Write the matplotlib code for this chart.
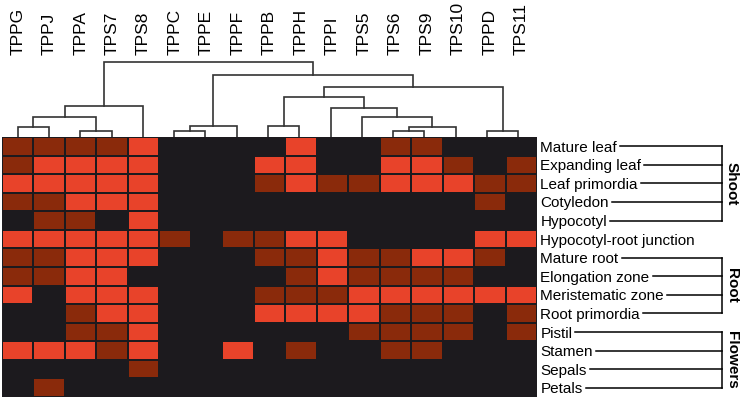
import numpy as np
import matplotlib
matplotlib.use('Agg')
import matplotlib.pyplot as plt
from matplotlib.colors import ListedColormap, BoundaryNorm
from matplotlib.lines import Line2D

plt.rcParams['font.family'] = ['Liberation Sans', 'DejaVu Sans']

genes = ['TPPG', 'TPPJ', 'TPPA', 'TPS7', 'TPS8', 'TPPC', 'TPPE', 'TPPF', 'TPPB',
         'TPPH', 'TPPI', 'TPS5', 'TPS6', 'TPS9', 'TPS10', 'TPPD', 'TPS11']

tissues = ['Mature leaf', 'Expanding leaf', 'Leaf primordia', 'Cotyledon', 'Hypocotyl',
           'Hypocotyl-root junction', 'Mature root', 'Elongation zone',
           'Meristematic zone', 'Root primordia', 'Pistil', 'Stamen', 'Sepals', 'Petals']

# 0 = not detected, 1 = weak, 2 = strong
expression = np.array([
    [1, 1, 1, 1, 2, 0, 0, 0, 0, 2, 0, 0, 1, 1, 0, 0, 0],
    [1, 2, 2, 2, 2, 0, 0, 0, 2, 2, 0, 0, 2, 2, 1, 0, 1],
    [2, 2, 2, 2, 2, 0, 0, 0, 1, 2, 1, 1, 2, 2, 2, 1, 1],
    [1, 1, 2, 2, 2, 0, 0, 0, 0, 0, 0, 0, 0, 0, 0, 1, 0],
    [0, 1, 1, 0, 2, 0, 0, 0, 0, 0, 0, 0, 0, 0, 0, 0, 0],
    [2, 2, 2, 2, 2, 1, 0, 1, 1, 2, 2, 0, 0, 0, 0, 2, 2],
    [1, 1, 2, 2, 2, 0, 0, 0, 1, 1, 2, 1, 1, 2, 2, 1, 0],
    [1, 1, 2, 2, 0, 0, 0, 0, 0, 1, 2, 1, 1, 1, 1, 0, 0],
    [2, 0, 2, 2, 2, 0, 0, 0, 1, 1, 1, 2, 2, 2, 2, 2, 2],
    [0, 0, 1, 2, 2, 0, 0, 0, 2, 2, 2, 2, 1, 1, 1, 0, 1],
    [0, 0, 1, 1, 2, 0, 0, 0, 0, 0, 0, 1, 1, 1, 1, 0, 1],
    [2, 2, 2, 1, 2, 0, 0, 2, 0, 1, 0, 0, 1, 1, 0, 0, 0],
    [0, 0, 0, 0, 1, 0, 0, 0, 0, 0, 0, 0, 0, 0, 0, 0, 0],
    [0, 1, 0, 0, 0, 0, 0, 0, 0, 0, 0, 0, 0, 0, 0, 0, 0],
])

# linkage: (left cluster, right cluster, height); new clusters numbered from 17
merges = [
    (0, 1, 10), (2, 3, 6), (17, 18, 20), (19, 4, 31),
    (5, 6, 6), (21, 7, 11),
    (12, 13, 6), (23, 14, 10), (11, 24, 20), (10, 25, 29),
    (8, 9, 11), (27, 26, 40), (15, 16, 6), (28, 29, 50),
    (22, 30, 62), (20, 31, 75),
]

groups = [('Shoot', 0, 4), ('Root', 6, 9), ('Flowers', 10, 13)]

W, H = 740, 400
fig = plt.figure(figsize=(7.4, 4), dpi=100)

# heatmap
ax = fig.add_axes([2 / W, 1 - 397 / H, 535 / W, 260 / H])
cmap = ListedColormap(['#1c1a1e', '#8a2a0b', '#e8432a'])
norm = BoundaryNorm([-0.5, 0.5, 1.5, 2.5], cmap.N)
ax.pcolormesh(expression, cmap=cmap, norm=norm, edgecolors='#1c1a1e', linewidth=1.3)
ax.set_xlim(0, len(genes))
ax.set_ylim(len(tissues), 0)
ax.set_facecolor('#1c1a1e')
for s in ax.spines.values():
    s.set_visible(False)

ax.xaxis.tick_top()
ax.set_xticks(np.arange(len(genes)) + 0.5)
ax.set_xticklabels(genes, rotation=90, fontsize=12.5, va='bottom', ha='center')
ax.tick_params(axis='x', length=0, pad=59)
ax.yaxis.tick_right()
ax.set_yticks(np.arange(len(tissues)) + 0.5)
ax.set_yticklabels(tissues, fontsize=11)
ax.tick_params(axis='y', length=0, pad=2.5)

# dendrogram
dax = fig.add_axes([2 / W, 1 - 137 / H, 532 / W, 82 / H])
dax.set_xlim(0, len(genes))
dax.set_ylim(0, 82)
dax.axis('off')
xpos = {i: i + 0.5 for i in range(len(genes))}
hpos = {i: 0 for i in range(len(genes))}
for k, (a, b, h) in enumerate(merges):
    node = len(genes) + k
    dax.plot([xpos[a], xpos[a], xpos[b], xpos[b]], [hpos[a], h, h, hpos[b]],
             color='#333333', lw=1.2, solid_joinstyle='miter')
    xpos[node] = (xpos[a] + xpos[b]) / 2
    hpos[node] = h

# brackets to tissue groups
fig.canvas.draw()
renderer = fig.canvas.get_renderer()
labels = ax.get_yticklabels()
bx = 722
for name, r0, r1 in groups:
    ys = []
    for r in range(r0, r1 + 1):
        bb = labels[r].get_window_extent(renderer)
        y = ax.transData.transform((0, r + 0.5))[1]
        ys.append(y)
        fig.add_artist(Line2D([(bb.x1 + 3) / W, bx / W], [y / H, y / H],
                              color='black', lw=1.1))
    fig.add_artist(Line2D([bx / W, bx / W], [min(ys) / H, max(ys) / H],
                          color='black', lw=1.1))
    fig.text(732 / W, (min(ys) + max(ys)) / 2 / H, name, rotation=-90,
             fontsize=11, fontweight='bold', ha='center', va='center')

fig.savefig('out.png', dpi=100)
plt.close()
